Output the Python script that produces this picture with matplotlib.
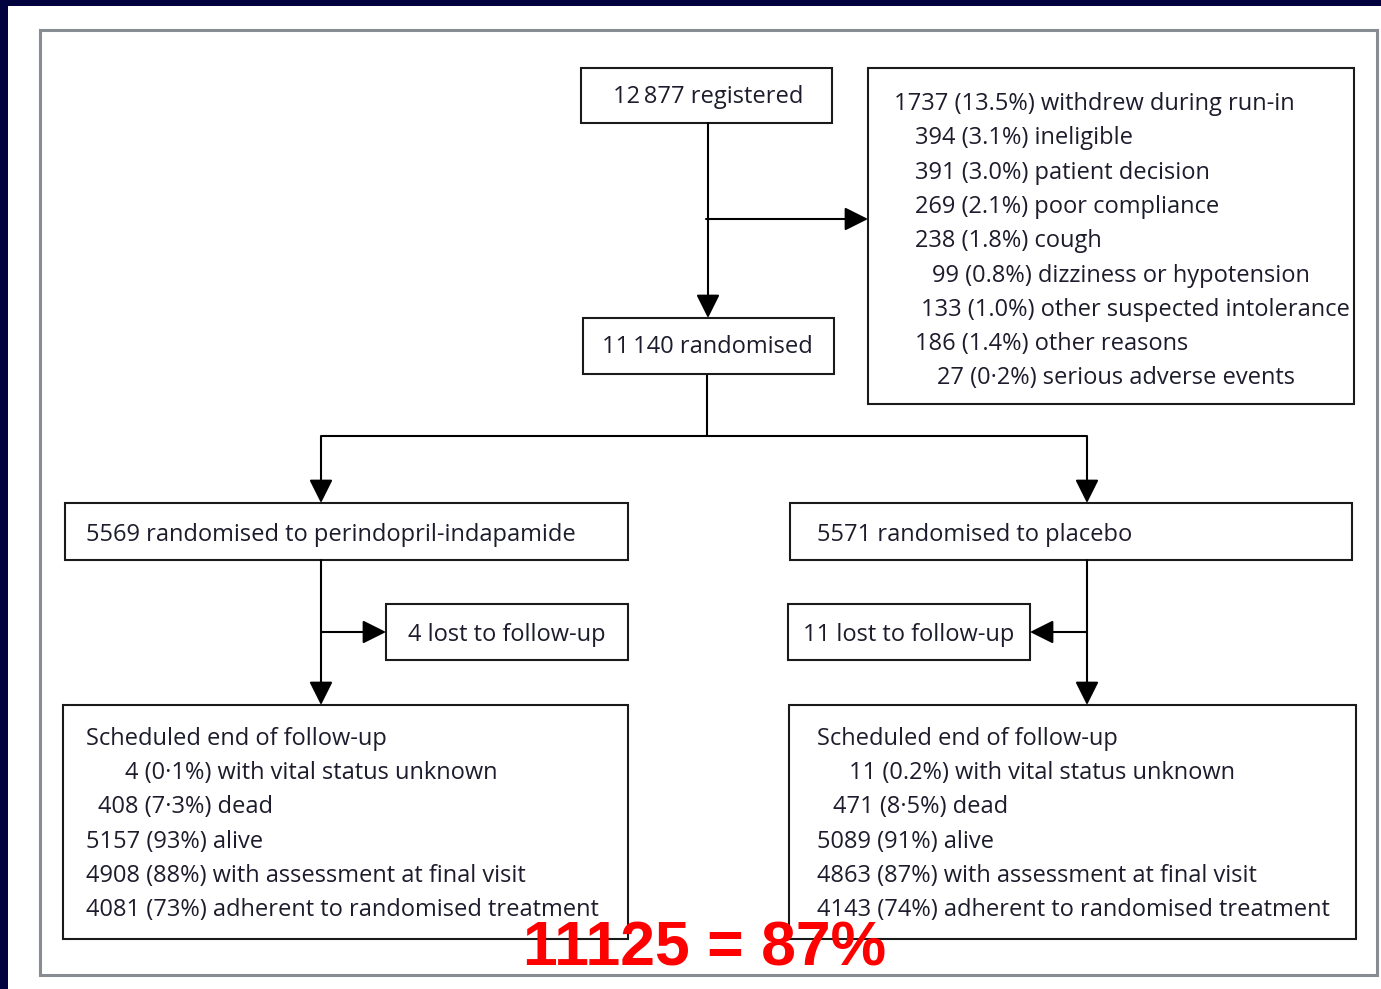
import matplotlib
matplotlib.use("Agg")
import matplotlib.pyplot as plt
from matplotlib.patches import Rectangle, FancyArrowPatch

plt.rcParams['font.family'] = ['Open Sans', 'DejaVu Sans']

# ---------------- data ----------------
registered = "12\u2009877"
randomised = "11\u2009140"
withdrawn_counts = ["1737", "394", "391", "269", "238", "99", "133", "186", "27"]
withdrawn_pcts = ["13.5%", "3.1%", "3.0%", "2.1%", "1.8%", "0.8%", "1.0%", "1.4%", "0\u00b72%"]
withdrawn_reasons = ["withdrew during run-in", "ineligible", "patient decision",
                     "poor compliance", "cough", "dizziness or hypotension",
                     "other suspected intolerance", "other reasons",
                     "serious adverse events"]
arm_names = ["perindopril-indapamide", "placebo"]
arm_n = ["5569", "5571"]
lost_n = ["4", "11"]
end_counts = [["4", "408", "5157", "4908", "4081"],
              ["11", "471", "5089", "4863", "4143"]]
end_pcts = [["0\u00b71%", "7\u00b73%", "93%", "88%", "73%"],
            ["0.2%", "8\u00b75%", "91%", "87%", "74%"]]
end_labels = ["with vital status unknown", "dead", "alive",
              "with assessment at final visit", "adherent to randomised treatment"]
annotation = "11125 = 87%"

# ---------------- figure ----------------
W, H = 1381, 989
fig = plt.figure(figsize=(W / 100, H / 100), dpi=100)
ax = fig.add_axes([0, 0, 1, 1])
ax.set_xlim(0, W)
ax.set_ylim(H, 0)
ax.axis('off')

navy = '#02023f'
fig.patch.set_facecolor('white')
ax.add_patch(Rectangle((0, 0), W, 6, facecolor=navy, edgecolor='none'))
ax.add_patch(Rectangle((0, 0), 8, H, facecolor=navy, edgecolor='none'))

# outer frame
ax.add_patch(Rectangle((40, 30), 1337, 945, facecolor='none', edgecolor='#868c92', lw=2.2))

TXT = '#1c1c2c'
FS = 17
LW = 1.5


def box(x0, y0, x1, y1):
    ax.add_patch(Rectangle((x0, y0), x1 - x0, y1 - y0, facecolor='white',
                           edgecolor='#1a1a1a', lw=LW, zorder=2))


def line(x0, y0, x1, y1):
    ax.plot([x0, x1], [y0, y1], color='black', lw=LW, solid_capstyle='butt', zorder=1)


def arrow(x0, y0, x1, y1):
    a = FancyArrowPatch((x0, y0), (x1, y1),
                        arrowstyle='-|>,head_length=1.0,head_width=0.5',
                        mutation_scale=14.4, shrinkA=0, shrinkB=0,
                        color='black', lw=LW, zorder=3)
    ax.add_patch(a)


def txt(x, y, s, **kw):
    ax.text(x, y, s, fontsize=FS, color=TXT, ha='left', va='baseline', zorder=4, **kw)


# boxes
box(581, 68, 832, 123)
box(868, 68, 1354, 404)
box(583, 318, 834, 374)
box(65, 503, 628, 560)
box(790, 503, 1352, 560)
box(386, 604, 628, 660)
box(788, 604, 1030, 660)
box(63, 705, 628, 939)
box(789, 705, 1356, 939)

# connectors
arrow(708, 123, 708, 318)
arrow(706, 219, 868, 219)
line(707, 374, 707, 436)
line(321, 436, 1087, 436)
arrow(321, 436, 321, 503)
arrow(1087, 436, 1087, 503)
arrow(321, 560, 321, 705)
arrow(321, 632, 386, 632)
arrow(1087, 560, 1087, 705)
arrow(1087, 632, 1030, 632)

# texts
txt(613, 103, f"{registered} registered")
txt(602, 353, f"{randomised} randomised")

w_x = [894, 915, 915, 915, 915, 932, 921, 915, 937]
for i, (c, p, r) in enumerate(zip(withdrawn_counts, withdrawn_pcts, withdrawn_reasons)):
    txt(w_x[i], 110 + i * 34.3, f"{c} ({p}) {r}")

arm_x = [86, 817]
for j in range(2):
    txt(arm_x[j], 541, f"{arm_n[j]} randomised to {arm_names[j]}")
txt(408, 641, f"{lost_n[0]} lost to follow-up")
txt(803, 641, f"{lost_n[1]} lost to follow-up")

end_x = [[125, 98, 86, 86, 86], [849, 833, 817, 817, 817]]
for j in range(2):
    txt(arm_x[j], 745, "Scheduled end of follow-up")
    for i in range(5):
        txt(end_x[j][i], 779 + i * 34.3,
            f"{end_counts[j][i]} ({end_pcts[j][i]}) {end_labels[i]}")

ax.text(705, 965, annotation, fontsize=45, color='#ff0000', fontweight='bold',
        family=['Liberation Sans', 'DejaVu Sans'], ha='center', va='baseline', zorder=5)

fig.savefig('out.png', dpi=100, facecolor='white')
